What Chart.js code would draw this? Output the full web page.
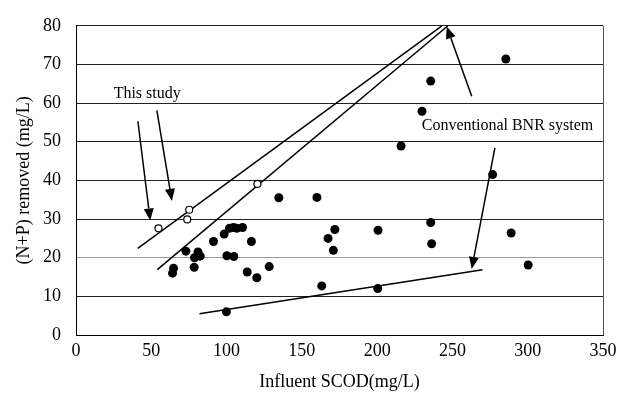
<!DOCTYPE html>
<html>
<head>
<meta charset="utf-8">
<script src="https://cdn.jsdelivr.net/npm/chart.js@4/dist/chart.umd.min.js"></script>
<style>
  html, body { margin: 0; padding: 0; background: #fff; }
  #wrap { width: 629px; height: 394px; }
</style>
</head>
<body>
<div id="wrap"><canvas id="myChart"></canvas></div>
<script>
// open circles, "This study"
var study_x = [54.8, 73.9, 75.2, 120.5];
var study_y = [27.6, 29.9, 32.4, 39.1];

// filled circles, conventional BNR systems
var bnr_x = [64.1, 64.8, 73, 78.7, 78.5, 81, 82.5, 91.3, 98.4, 100.2, 104.8, 101.9, 104.6, 106.8, 110.6,
             116.5, 113.7, 120.1, 128.3, 99.9, 134.7, 160, 163.2, 171.9, 167.4, 170.9, 200.6, 200.4,
             235.6, 236.2, 289, 300.3, 285.5, 235.6, 229.8, 215.9, 276.7];
var bnr_y = [16.0, 17.3, 21.7, 20.0, 17.5, 21.5, 20.4, 24.2, 26.1, 20.5, 20.3, 27.6, 27.8, 27.6, 27.8,
             24.2, 16.3, 14.8, 17.7, 6.0, 35.5, 35.6, 12.7, 27.3, 25.0, 21.9, 27.1, 12.0,
             29.1, 23.6, 26.4, 18.1, 71.4, 65.7, 57.9, 48.9, 41.5];

// straight lines drawn on the plot (end points)
var upper_line = [{x: 41, y: 22.4}, {x: 243, y: 80}];
var lower_line = [{x: 54, y: 16.9}, {x: 247, y: 80}];
var bnr_line = [{x: 82, y: 5.5}, {x: 270, y: 16.9}];

// arrows [fromX, fromY, toX, toY]
var arrows = [
    [41.1, 55.3, 49.3, 29.6],
    [53.7, 58.1, 63.7, 34.7],
    [262.8, 61.8, 246.2, 79.8],
    [278.2, 48.4, 262.8, 17.1]
];
var labels = [
    {text: "This study", x: 25, y: 61.2},
    {text: "Conventional BNR system", x: 229.6, y: 53.1}
];

var x_ticks = [0, 50, 100, 150, 200, 250, 300, 350];
var y_ticks = [0, 10, 20, 30, 40, 50, 60, 70, 80];

function toPoints(xs, ys) {
    return xs.map(function (x, i) { return {x: x, y: ys[i]}; });
}

var serif = "'Liberation Serif', 'DejaVu Serif', serif";

// arrows, labels and the right frame line
var extras = {
    id: 'extras',
    afterDatasetsDraw: function (chart) {
        var ctx = chart.ctx;
        var xs = chart.scales.x, ys = chart.scales.y;
        var area = chart.chartArea;
        ctx.save();
        ctx.strokeStyle = '#555';
        ctx.lineWidth = 1;
        ctx.beginPath();
        ctx.moveTo(area.right + 0.5, area.top);
        ctx.lineTo(area.right + 0.5, area.bottom);
        ctx.stroke();

        ctx.strokeStyle = '#000';
        ctx.fillStyle = '#000';
        ctx.lineWidth = 1.5;
        for (var a of arrows) {
            var x1 = xs.getPixelForValue(a[0]), y1 = ys.getPixelForValue(a[1]);
            var x2 = xs.getPixelForValue(a[2]), y2 = ys.getPixelForValue(a[3]);
            var ang = Math.atan2(y2 - y1, x2 - x1);
            var len = 12, half = 5;
            var bx = x2 - len * Math.cos(ang), by = y2 - len * Math.sin(ang);
            ctx.beginPath();
            ctx.moveTo(x1, y1);
            ctx.lineTo(bx, by);
            ctx.stroke();
            ctx.beginPath();
            ctx.moveTo(x2, y2);
            ctx.lineTo(bx + half * Math.sin(ang), by - half * Math.cos(ang));
            ctx.lineTo(bx - half * Math.sin(ang), by + half * Math.cos(ang));
            ctx.closePath();
            ctx.fill();
        }

        ctx.font = "16px " + serif;
        ctx.textAlign = 'left';
        ctx.textBaseline = 'alphabetic';
        for (var l of labels) {
            ctx.fillText(l.text, xs.getPixelForValue(l.x), ys.getPixelForValue(l.y));
        }
        ctx.restore();
    }
};

var lineStyle = {
    type: 'line',
    borderColor: '#000',
    borderWidth: 1.5,
    pointRadius: 0,
    fill: false,
    tension: 0
};

var ctx = document.getElementById('myChart').getContext('2d');
var chart = new Chart(ctx, {
    type: 'scatter',
    data: {
        datasets: [
            {
                label: "This study",
                data: toPoints(study_x, study_y),
                pointRadius: 3.5,
                pointBackgroundColor: '#fff',
                pointBorderColor: '#000',
                pointBorderWidth: 1.2
            },
            {
                label: "Conventional BNR system",
                data: toPoints(bnr_x, bnr_y),
                pointRadius: 4.5,
                pointBackgroundColor: '#000',
                pointBorderColor: '#000',
                pointBorderWidth: 0
            },
            Object.assign({label: "upper", data: upper_line}, lineStyle),
            Object.assign({label: "lower", data: lower_line}, lineStyle),
            Object.assign({label: "bnr", data: bnr_line}, lineStyle)
        ]
    },
    options: {
        responsive: true,
        maintainAspectRatio: false,
        animation: false,
        layout: { padding: { left: 0, right: 26, top: 16, bottom: 0 } },
        plugins: {
            legend: { display: false },
            tooltip: { enabled: false }
        },
        scales: {
            x: {
                type: 'linear',
                min: 0,
                max: 350,
                afterBuildTicks: function (axis) {
                    axis.ticks = x_ticks.map(function (v) { return {value: v}; });
                },
                afterFit: function (axis) { axis.height = 59; },
                grid: { display: false, drawTicks: false },
                border: { color: '#000', width: 1 },
                ticks: { color: '#000', padding: 5, maxRotation: 0, font: { family: serif, size: 18 } },
                title: {
                    display: true,
                    text: "Influent SCOD(mg/L)",
                    color: '#000',
                    padding: { top: 0, bottom: 1 },
                    font: { family: serif, size: 18 }
                }
            },
            y: {
                type: 'linear',
                min: 0,
                max: 80,
                afterBuildTicks: function (axis) {
                    axis.ticks = y_ticks.map(function (v) { return {value: v}; });
                },
                afterFit: function (axis) { axis.width = 76; },
                grid: {
                    drawTicks: false,
                    color: function (c) { return c.tick && c.tick.value === 20 ? '#999' : '#222'; },
                    lineWidth: 1
                },
                border: { color: '#000', width: 1 },
                ticks: { color: '#000', padding: 15, font: { family: serif, size: 18 } },
                title: {
                    display: true,
                    text: "(N+P) removed (mg/L)",
                    color: '#000',
                    padding: { top: 13, bottom: 0 },
                    font: { family: serif, size: 18 }
                }
            }
        }
    },
    plugins: [extras]
});
</script>
</body>
</html>
